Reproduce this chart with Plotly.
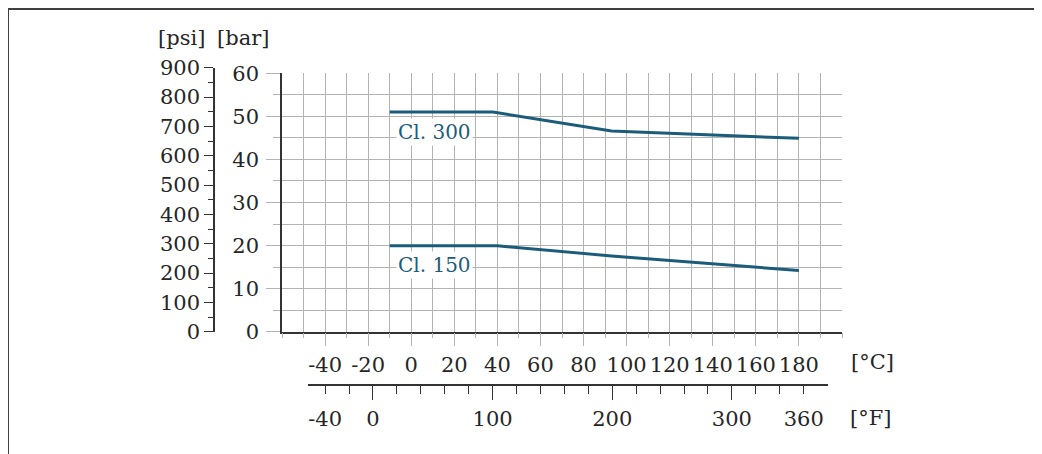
import plotly.graph_objects as go

# ---------------- data ----------------
cl300_temp_c = [-10, 38, 93, 180]
cl300_bar = [51.0, 51.0, 46.6, 44.9]
cl150_temp_c = [-10, 40, 93, 180]
cl150_bar = [19.95, 19.95, 17.6, 14.2]

celsius_ticks = [-40, -20, 0, 20, 40, 60, 80, 100, 120, 140, 160, 180]
fahrenheit_labels = [-40, 0, 100, 200, 300, 360]
fahrenheit_long = [0, 100, 200, 300]
bar_ticks = [0, 10, 20, 30, 40, 50, 60]
psi_ticks = [0, 100, 200, 300, 400, 500, 600, 700, 800, 900]

# ---------------- layout geometry (screen pixels) ----------------
W, H = 1042, 454
OX, OY = 8, 8   # page body offset
def px(x):
    return (x - OX) / W
def py(y):
    return 1 - (y - OY) / H

C_MIN, C_MAX = -60, 200
PX_L, PX_R = 282, 842          # plot left/right
PY_B, PY_T = 331.7, 73.3       # plot bottom/top
F_L, F_R = 308, 828            # fahrenheit line extent
F_Y = 384                      # fahrenheit axis line
PSI_X = 214
PSI_TOP = 67.7

def px_to_c(x):
    return C_MIN + (x - PX_L) * (C_MAX - C_MIN) / (PX_R - PX_L)
def c_to_f(c):
    return c * 9 / 5 + 32

f_range = [c_to_f(px_to_c(F_L)), c_to_f(px_to_c(F_R))]

FONT = "DejaVu Serif"
TXT = "#262626"
GRID = "#b3b3b3"
AX = "#333333"
TEAL = "#1c5c7b"
FS = 21

fig = go.Figure()

fig.add_trace(go.Scatter(x=cl300_temp_c, y=cl300_bar, mode="lines",
                         line=dict(color=TEAL, width=3), hoverinfo="skip",
                         showlegend=False))
fig.add_trace(go.Scatter(x=cl150_temp_c, y=cl150_bar, mode="lines",
                         line=dict(color=TEAL, width=3), hoverinfo="skip",
                         showlegend=False))
# dummy traces to register auxiliary axes
fig.add_trace(go.Scatter(x=[], y=[], xaxis="x4", yaxis="y2", showlegend=False, hoverinfo="skip"))
fig.add_trace(go.Scatter(x=[], y=[], xaxis="x2", yaxis="y3", showlegend=False, hoverinfo="skip"))
fig.add_trace(go.Scatter(x=[], y=[], xaxis="x3", yaxis="y3", showlegend=False, hoverinfo="skip"))

tickfont = dict(family=FONT, size=FS, color=TXT)

fig.update_layout(
    template="none",
    width=W, height=H,
    margin=dict(l=0, r=0, t=0, b=0, pad=0, autoexpand=False),
    paper_bgcolor="white", plot_bgcolor="white",
    showlegend=False,
    font=dict(family=FONT, size=FS, color=TXT),
    xaxis=dict(
        domain=[px(PX_L), px(PX_R)], range=[C_MIN, C_MAX], anchor="y",
        tickmode="array", tickvals=celsius_ticks,
        ticktext=[str(v) for v in celsius_ticks],
        ticks="outside", ticklen=13, tickcolor=GRID, tickwidth=1,
        showgrid=True, gridcolor=GRID, gridwidth=1,
        minor=dict(dtick=10, tick0=0, ticks="outside", ticklen=5,
                   tickcolor=GRID, showgrid=True, gridcolor=GRID, gridwidth=1),
        showline=True, linecolor=AX, linewidth=1.5, automargin=False,
        zeroline=False, tickfont=tickfont, fixedrange=True,
    ),
    yaxis=dict(
        domain=[py(PY_B), py(PY_T)], range=[0, 60], anchor="x",
        tickmode="array", tickvals=bar_ticks,
        ticks="outside", ticklen=14, tickcolor=GRID, tickwidth=1,
        ticklabelstandoff=3,
        showgrid=True, gridcolor=GRID, gridwidth=1,
        minor=dict(dtick=5, tick0=0, ticks="outside", ticklen=7,
                   tickcolor=GRID, showgrid=True, gridcolor=GRID, gridwidth=1),
        showline=True, linecolor=AX, linewidth=1.5, automargin=False,
        zeroline=False, tickfont=tickfont, fixedrange=True,
    ),
    # psi axis
    yaxis2=dict(
        domain=[py(PY_B), py(PSI_TOP)], range=[0, 900], anchor="free",
        position=px(PSI_X), side="left",
        tickmode="array", tickvals=psi_ticks,
        ticks="outside", ticklen=9, tickcolor=AX, tickwidth=1,
        minor=dict(dtick=50, tick0=0, ticks="outside", ticklen=5, tickcolor=AX),
        showgrid=False, showline=True, linecolor=AX, linewidth=1.5,
        automargin=False,
        zeroline=False, tickfont=tickfont, fixedrange=True,
    ),
    xaxis4=dict(domain=[0.0, 0.01], range=[0, 1], anchor="y2", visible=False,
                showgrid=False, fixedrange=True, automargin=False),
    # fahrenheit axis
    yaxis3=dict(domain=[py(F_Y), py(F_Y) + 0.01], range=[0, 1], anchor="x2",
                visible=False, showgrid=False, fixedrange=True, automargin=False),
    xaxis2=dict(
        domain=[px(F_L), px(F_R)], range=f_range, anchor="y3",
        tickmode="array", tickvals=fahrenheit_labels,
        ticktext=[str(v) for v in fahrenheit_labels],
        ticks="outside", ticklen=8, tickcolor=AX, tickwidth=1,
        ticklabelstandoff=7,
        minor=dict(tickmode="array", tickvals=list(range(-40, 361, 20)),
                   ticks="outside", ticklen=8, tickcolor=AX),
        showgrid=False, showline=True, linecolor=AX, linewidth=1.5,
        automargin=False,
        zeroline=False, tickfont=tickfont, fixedrange=True,
    ),
    xaxis3=dict(
        domain=[px(F_L), px(F_R)], range=f_range, anchor="y3",
        tickmode="array", tickvals=fahrenheit_long,
        ticks="outside", ticklen=15, tickcolor=AX, tickwidth=1,
        showticklabels=False, showgrid=False, showline=False,
        zeroline=False, fixedrange=True, automargin=False,
    ),
)

annos = [
    dict(text="[psi]", x=px(181.7), y=py(38.3), xanchor="center", yanchor="middle"),
    dict(text="[bar]", x=px(243.3), y=py(38.3), xanchor="center", yanchor="middle"),
    dict(text="[°C]", x=px(849), y=py(361.7), xanchor="left", yanchor="middle"),
    dict(text="[°F]", x=px(848), y=py(418.3), xanchor="left", yanchor="middle"),
]
for a in annos:
    fig.add_annotation(xref="paper", yref="paper", showarrow=False,
                       font=dict(family=FONT, size=FS, color=TXT), **a)

fig.add_annotation(text="Cl. 300", x=px_to_c(396), y=46.4, xref="x", yref="y",
                   xanchor="left", yanchor="middle", showarrow=False,
                   bgcolor="white", borderpad=1,
                   font=dict(family=FONT, size=20, color=TEAL))
fig.add_annotation(text="Cl. 150", x=px_to_c(396), y=15.5, xref="x", yref="y",
                   xanchor="left", yanchor="middle", showarrow=False,
                   bgcolor="white", borderpad=1,
                   font=dict(family=FONT, size=20, color=TEAL))

# outer frame
fig.add_shape(type="rect", xref="paper", yref="paper",
              x0=px(8), x1=px(1035), y0=-0.05, y1=1 - 1 / H,
              line=dict(color="#404040", width=2), fillcolor="rgba(0,0,0,0)",
              layer="below")

fig.write_html("out.html")
